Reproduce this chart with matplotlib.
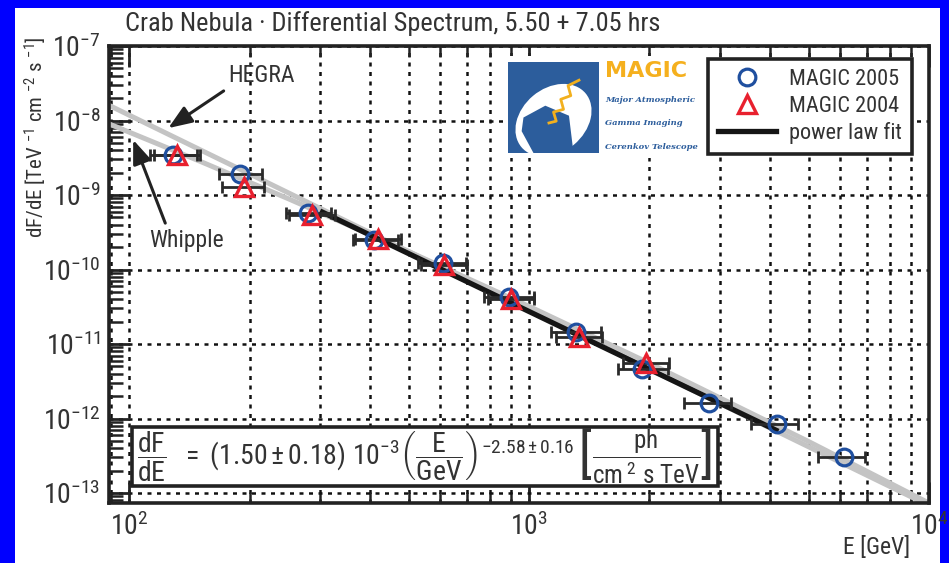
import matplotlib
matplotlib.use("Agg")
import matplotlib.pyplot as plt
from matplotlib import font_manager as fm
from matplotlib.patches import Rectangle, Ellipse, Polygon
from matplotlib.lines import Line2D
from matplotlib.ticker import LogLocator, NullFormatter, FixedLocator
import numpy as np

# ---------------- data ----------------
E_2005 = [128.9, 189.7, 279.2, 408.8, 608.8, 891.0, 1312, 1919, 2825, 4158, 6124]
F_2005 = [3.44e-9, 1.91e-9, 5.73e-10, 2.49e-10, 1.22e-10, 4.27e-11, 1.45e-11,
          4.61e-12, 1.61e-12, 8.43e-13, 3.04e-13]
E_2005_lo = [112.9, 167.2, 246.0, 362.2, 527.2, 770.5, 1136, 1671, 2445, 3597, 5272]
E_2005_hi = [148.1, 214.3, 319.2, 469.8, 695.2, 1028, 1515, 2230, 3206, 4695, 6921]

E_2004 = [131.9, 193.1, 285.8, 418.4, 612.8, 901.8, 1334, 1963]
F_2004 = [3.44e-9, 1.28e-9, 5.40e-10, 2.56e-10, 1.15e-10, 4.02e-11, 1.24e-11, 5.56e-12]
E_2004_lo = [115.5, 171.0, 250.3, 366.4, 535.5, 788.6, 1169, 1720]
E_2004_hi = [150.7, 217.8, 326.4, 477.8, 699.3, 1029, 1525, 2244]

fit_E = [300, 4200]
fit_F = [6.10e-10, 6.73e-13]

hegra_E = [89, 10000]
hegra_F = [1.60e-8, 6.79e-14]

whipple_E = [89, 150, 250, 500, 1000, 2000, 5000, 10000]
whipple_F = [9.02e-9, 2.85e-9, 8.91e-10, 1.74e-10, 3.20e-11, 5.52e-12, 4.91e-13, 7.33e-14]

x_ticks = [1e2, 1e3, 1e4]
y_ticks = [1e-13, 1e-12, 1e-11, 1e-10, 1e-9, 1e-8, 1e-7]

legend_labels = ["MAGIC 2005", "MAGIC 2004", "power law fit"]
title = "Crab Nebula \u00b7 Differential Spectrum, 5.50 + 7.05 hrs"
ylabel = r"dF/dE [TeV $^{-1}$ cm $^{-2}$ s $^{-1}$]"
xlabel = "E [GeV]"
formula_parts = [
    (r"$\dfrac{dF}{dE}\ \ =\ (1.50\pm0.18)\ 10^{-3}\left(\dfrac{E}{GeV}\right)^{-2.58\pm0.16}$", 20, 4),
    ("[", 38, 0),
    (r"$\dfrac{ph}{cm^{\ 2}\ s\ TeV}$", 18, 0),
    ("]", 38, 0),
]

XLIM = (89.0, 10000.0)
YLIM = (7.35e-14, 1e-7)

# ---------------- fonts ----------------
names = {f.name for f in fm.fontManager.ttflist}
narrow = next((n for n in ["Liberation Sans Narrow", "Roboto Condensed",
                           "Open Sans Condensed", "Arial Narrow"] if n in names),
              "DejaVu Sans")
plt.rcParams["font.family"] = [narrow, "DejaVu Sans"]
plt.rcParams["mathtext.fontset"] = "custom"
plt.rcParams["mathtext.rm"] = narrow
plt.rcParams["mathtext.it"] = narrow + ":italic"
plt.rcParams["mathtext.bf"] = narrow + ":bold"
plt.rcParams["mathtext.sf"] = narrow
plt.rcParams["mathtext.default"] = "regular"

TXT = "#333333"
BLUE = "#1f4f9f"
RED = "#e8202e"
GREY = "#c4c4c4"

W, H = 949, 563
def fx(x):
    return x / W
def fy(y):
    return 1 - y / H

fig = plt.figure(figsize=(W / 100, H / 100), dpi=100)
fig.patch.set_facecolor("#0000ff")
fig.add_artist(Rectangle((15 / W, 0), (940 - 15) / W, (H - 8) / H,
                         transform=fig.transFigure, facecolor="white",
                         edgecolor="none", zorder=-10))

ax = fig.add_axes([109 / W, (H - 503) / H, 820 / W, 457 / H])
ax.set_xscale("log")
ax.set_yscale("log")
ax.set_xlim(*XLIM)
ax.set_ylim(*YLIM)

ax.xaxis.set_major_locator(FixedLocator(x_ticks))
ax.xaxis.set_minor_locator(LogLocator(base=10, subs=np.arange(2, 10), numticks=50))
ax.yaxis.set_major_locator(FixedLocator(y_ticks))
ax.yaxis.set_minor_locator(LogLocator(base=10, subs=np.arange(2, 10), numticks=100))
ax.xaxis.set_minor_formatter(NullFormatter())
ax.yaxis.set_minor_formatter(NullFormatter())

for s in ax.spines.values():
    s.set_linewidth(2.6)
    s.set_color("#222222")

ax.tick_params(axis="both", which="both", direction="in", colors="#222222",
               labelcolor=TXT)
ax.tick_params(axis="y", which="major", length=15, width=2.0, left=True, right=False,
               pad=6, labelsize=20)
ax.tick_params(axis="y", which="minor", length=10, width=1.8, left=True, right=False)
ax.tick_params(axis="x", which="major", length=15, width=2.0, top=True, bottom=True,
               pad=7, labelsize=20)
ax.tick_params(axis="x", which="minor", length=8, width=1.8, top=True, bottom=True)

grid_kw = dict(color="#111111", linestyle=(0, (1.6, 2.2)), linewidth=1.8)
ax.grid(True, which="major", axis="y", **grid_kw)
ax.grid(True, which="both", axis="x", **grid_kw)
ax.set_axisbelow(True)

# reference curves
ax.plot(hegra_E, hegra_F, color=GREY, lw=3.6, solid_capstyle="butt", zorder=2)
ax.plot(whipple_E, whipple_F, color=GREY, lw=3.6, solid_capstyle="butt", zorder=2)
ax.plot(fit_E, fit_F, color="#151515", lw=3.8, solid_capstyle="butt", zorder=3)

# error bars
xe05 = [np.array(E_2005) - np.array(E_2005_lo), np.array(E_2005_hi) - np.array(E_2005)]
xe04 = [np.array(E_2004) - np.array(E_2004_lo), np.array(E_2004_hi) - np.array(E_2004)]
ax.errorbar(E_2005, F_2005, xerr=xe05, fmt="none", ecolor="#2a2a2a", elinewidth=2.0,
            capsize=4, capthick=2.0, zorder=4)
ax.errorbar(E_2004, F_2004, xerr=xe04, fmt="none", ecolor="#2a2a2a", elinewidth=2.0,
            capsize=4, capthick=2.0, zorder=4)

mk05 = dict(marker="o", ls="none", mfc="none", mec=BLUE, ms=12, mew=2.3)
mk04 = dict(marker="^", ls="none", mfc="none", mec=RED, ms=13, mew=2.4)
ax.plot(E_2005, F_2005, zorder=5, **mk05)
ax.plot(E_2004, F_2004, zorder=6, **mk04)

# legend
handles = [Line2D([], [], **mk05), Line2D([], [], **mk04),
           Line2D([], [], color="#151515", lw=3.8)]
leg = ax.legend(handles, legend_labels, loc="upper left",
                bbox_to_anchor=((708 - 109) / 820, (503 - 59) / 457),
                borderaxespad=0, frameon=True, fancybox=False, framealpha=1,
                fontsize=16, handlelength=2.6, handletextpad=0.6,
                labelspacing=0.25, borderpad=0.45, labelcolor=TXT)
leg.get_frame().set_edgecolor("#222222")
leg.get_frame().set_linewidth(2.6)
leg.set_zorder(10)

# formula box
ax.add_patch(Rectangle(((132 - 109) / 820, (503 - 486) / 457), (718 - 132) / 820,
                       (486 - 427) / 457, transform=ax.transAxes, facecolor="white",
                       edgecolor="#222222", lw=2.6, zorder=8))
renderer = fig.canvas.get_renderer()
xcur = 137.0
ycen = H - 456.5
for txt, fs, gap in formula_parts:
    t = fig.text(xcur / W, ycen / H, txt, fontsize=fs, color=TXT, ha="left",
                 va="center", zorder=20)
    bb = t.get_window_extent(renderer)
    xcur = bb.x1 + gap

# annotations
ax.annotate("HEGRA", xy=(125.2, 7.9e-9), xytext=(262, H - 76), textcoords="figure pixels",
            ha="center", va="center", fontsize=17, color=TXT, zorder=9,
            arrowprops=dict(arrowstyle="-|>,head_length=0.9,head_width=0.35",
                            color="#222222", lw=2.2, mutation_scale=16,
                            relpos=(0.0, 0.0), shrinkA=2, shrinkB=0))
ax.annotate("Whipple", xy=(102.3, 5.5e-9), xytext=(186, H - 240), textcoords="figure pixels",
            ha="center", va="center", fontsize=17, color=TXT, zorder=9,
            arrowprops=dict(arrowstyle="-|>,head_length=0.9,head_width=0.35",
                            color="#222222", lw=2.2, mutation_scale=16,
                            relpos=(0.25, 1.0), shrinkA=2, shrinkB=0))

# logo area (white panel + drawing)
ax.add_patch(Rectangle(((504 - 109) / 820, (503 - 158) / 457), (704 - 504) / 820,
                       (158 - 56) / 457, transform=ax.transAxes, facecolor="white",
                       edgecolor="none", zorder=7))
lg = fig.add_axes([508 / W, (H - 153) / H, 91 / W, 91 / H])
lg.set_xlim(0, 1)
lg.set_ylim(0, 1)
lg.axis("off")
LOGO = "#2c5d9c"
lg.add_patch(Rectangle((0, 0), 1, 1, facecolor=LOGO, edgecolor="none"))
lg.add_patch(Ellipse((0.50, 0.36), 0.92, 0.70, angle=40, facecolor="white",
                     edgecolor="none", clip_on=True))
lg.add_patch(Polygon([(0.17, 0.39), (0.41, 0.52), (0.67, 0.41), (0.72, 0.0),
                      (0.28, 0.0), (0.15, 0.24)], closed=True, facecolor=LOGO,
                     edgecolor="none"))
lg.plot([0.45, 0.53, 0.50, 0.61, 0.58, 0.69, 0.66, 0.78],
        [0.33, 0.35, 0.45, 0.48, 0.59, 0.63, 0.74, 0.80], color="#f2b01e", lw=2.0)

fig.text(fx(605), fy(71), "MAGIC", fontsize=16, fontweight="bold", color="#f5b01e",
         family="DejaVu Sans", ha="left", va="center")
for txt, yy in [("Major Atmospheric", 100), ("Gamma Imaging", 123),
                ("Cerenkov Telescope", 147)]:
    fig.text(fx(605), fy(yy), txt, fontsize=6, fontweight="bold", style="italic",
             color=LOGO, family="DejaVu Serif", ha="left", va="center")

# titles / labels
fig.text(fx(125), fy(24), title, fontsize=19, color=TXT, ha="left", va="center")
fig.text(fx(36), fy(137), ylabel, fontsize=15, color=TXT, rotation=90,
         ha="center", va="center")
fig.text(fx(910), fy(548), xlabel, fontsize=17, color=TXT, ha="right", va="center")

fig.savefig("out.png", dpi=100, facecolor=fig.get_facecolor())
